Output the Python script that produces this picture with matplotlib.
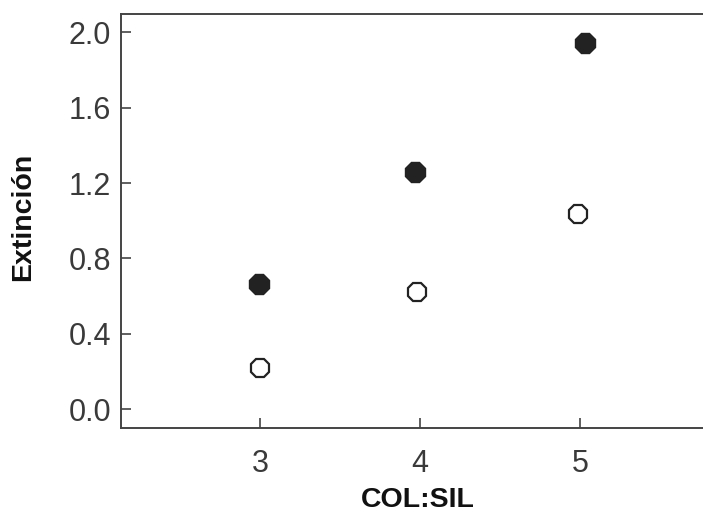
import matplotlib
matplotlib.use("Agg")
import matplotlib.pyplot as plt

# Data
filled_x = [2.99, 3.97, 5.03]
filled_y = [0.665, 1.257, 1.943]
open_x = [3.00, 3.98, 4.99]
open_y = [0.219, 0.621, 1.037]
yticks = [0.0, 0.4, 0.8, 1.2, 1.6, 2.0]
ytick_labels = ["0.0", "0.4", "0.8", "1.2", "1.6", "2.0"]
xticks = [3, 4, 5]
xtick_labels = ["3", "4", "5"]

W, H = 703, 513
fig = plt.figure(figsize=(W / 100, H / 100), dpi=100)
fig.patch.set_facecolor("white")
ax = fig.add_axes([121 / W, (H - 428) / H, 1 - 121 / W, (428 - 13.5) / H])

ax.plot(filled_x, filled_y, linestyle="none", marker="8", markersize=15.5,
        markerfacecolor="#222222", markeredgecolor="#222222", markeredgewidth=1)
ax.plot(open_x, open_y, linestyle="none", marker="8", markersize=14,
        markerfacecolor="white", markeredgecolor="#222222", markeredgewidth=1.6)

ax.set_xlim(2.13, 5.77)
ax.set_ylim(-0.1, 2.1)
ax.set_yticks(yticks)
ax.set_yticklabels(ytick_labels)
ax.set_xticks(xticks)
ax.set_xticklabels(xtick_labels)

for s in ["left", "bottom", "top"]:
    ax.spines[s].set_color("#444444")
    ax.spines[s].set_linewidth(1.4)
ax.spines["right"].set_visible(False)

ax.tick_params(axis="y", direction="in", length=7, width=1.2, color="#444444",
               labelsize=22, labelcolor="#3a3a3a", pad=7)
ax.tick_params(axis="x", direction="in", length=7, width=1.2, color="#444444",
               labelsize=22, labelcolor="#3a3a3a", pad=15)
for lab in ax.get_xticklabels() + ax.get_yticklabels():
    lab.set_family("Liberation Sans")

fig.text(418 / W, 1 - 500 / H, "COL:SIL", ha="center", va="center",
         family="Liberation Sans", fontweight="bold", fontsize=20.5, color="#111111")
fig.text(23 / W, 1 - 217 / H, "Extinción", ha="center", va="center", rotation=90,
         family="Liberation Sans", fontweight="bold", fontsize=20.5, color="#111111")

fig.savefig("out.png", dpi=100)
